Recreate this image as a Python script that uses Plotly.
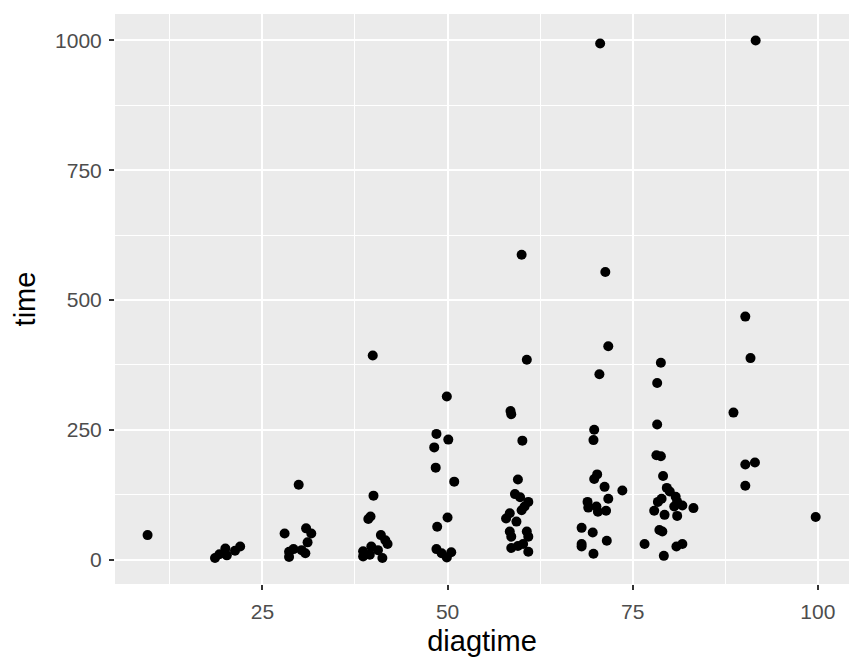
import plotly.graph_objects as go

# Points (jittered scatter): diagtime vs time
diagtime = [
    9.5,
    18.6, 19.2, 20.0, 20.2, 21.3, 22.0,
    28.0, 29.9, 30.9, 31.6, 31.1, 28.6, 28.6, 29.2, 30.3, 30.8,
    39.9, 40.0, 39.6, 39.3, 41.0, 41.6, 41.9, 38.6, 38.6, 39.7, 39.5, 40.6, 41.2,
    49.9, 48.5, 50.1, 48.2, 48.4, 50.9, 50.0, 48.6, 48.5, 49.2, 49.9, 50.5,
    60.0, 60.7, 58.5, 58.6, 60.1, 59.5, 59.1, 60.9, 60.4, 60.0, 58.4, 57.9, 59.3,
    58.4, 58.6, 60.7, 60.9, 58.6, 59.5, 60.2, 60.9, 59.8,
    70.6, 71.3, 71.7, 70.5, 69.8, 69.7, 70.2, 69.8, 71.2, 73.6, 71.7, 68.9, 69.0,
    70.1, 70.3, 71.4, 68.1, 69.6, 71.5, 68.1, 68.1, 69.7, 76.6,
    78.8, 78.3, 78.3, 78.2, 78.8, 79.1, 79.6, 80.0, 80.8, 81.0, 78.9, 78.4, 80.6,
    81.7, 83.2, 77.9, 79.3, 81.0, 78.6, 79.0, 80.9, 81.7, 79.2,
    91.6, 90.2, 90.9, 88.6, 90.2, 91.5, 90.2,
    99.7,
]
time = [
    47,
    3, 10, 21, 8, 17, 25,
    50, 144, 60, 50, 33, 15, 5, 20, 18, 12,
    393, 123, 83, 78, 47, 37, 30, 16, 6, 25, 9, 18, 3,
    314, 242, 231, 216, 177, 150, 81, 63, 20, 12, 4, 14,
    587, 385, 286, 280, 229, 154, 126, 111, 102, 95, 89, 79, 73,
    54, 44, 54, 44, 22, 26, 30, 15, 120,
    994, 554, 411, 357, 250, 230, 164, 155, 140, 133, 117, 111, 100,
    102, 92, 94, 61, 52, 36, 30, 25, 11, 30,
    379, 340, 260, 201, 199, 161, 138, 131, 121, 111, 117, 111, 102,
    104, 99, 94, 86, 84, 57, 54, 25, 30, 7,
    1000, 468, 388, 283, 183, 187, 142,
    82,
]

x_ticks = [25, 50, 75, 100]
x_minor = [12.5, 37.5, 62.5, 87.5]
y_ticks = [0, 250, 500, 750, 1000]
y_minor = [125, 375, 625, 875]

fig = go.Figure(go.Scatter(
    x=diagtime, y=time, mode="markers",
    marker=dict(color="black", size=10, line=dict(width=0)),
    showlegend=False,
))

font_family = "Liberation Sans, Arial, sans-serif"
axis_common = dict(
    showline=False, zeroline=False,
    showgrid=True, gridcolor="white", gridwidth=2,
    ticks="outside", ticklen=5, tickwidth=1.5, tickcolor="#333333",
    tickfont=dict(family=font_family, size=21, color="#4D4D4D"),
    title_font=dict(family=font_family, size=29, color="black"),
)

fig.update_xaxes(
    range=[5.1, 104.2], tickmode="array", tickvals=x_ticks,
    ticktext=[str(v) for v in x_ticks],
    minor=dict(tickvals=x_minor, showgrid=True, gridcolor="white", gridwidth=1, ticks=""),
    title_text="diagtime", title_standoff=8,
    ticklabelstandoff=4,
    **axis_common,
)
fig.update_yaxes(
    range=[-47.2, 1051], tickmode="array", tickvals=y_ticks,
    ticktext=[str(v) for v in y_ticks],
    minor=dict(tickvals=y_minor, showgrid=True, gridcolor="white", gridwidth=1, ticks=""),
    title_text="time", title_standoff=10,
    ticklabelstandoff=3,
    **axis_common,
)

# the page body adds an 8px offset, so margins are shifted to compensate
fig.update_layout(
    width=864, height=672,
    margin=dict(l=107, r=23, t=6, b=96),
    paper_bgcolor="white", plot_bgcolor="#EBEBEB",
    font=dict(family=font_family),
)

fig.write_html("out.html")
